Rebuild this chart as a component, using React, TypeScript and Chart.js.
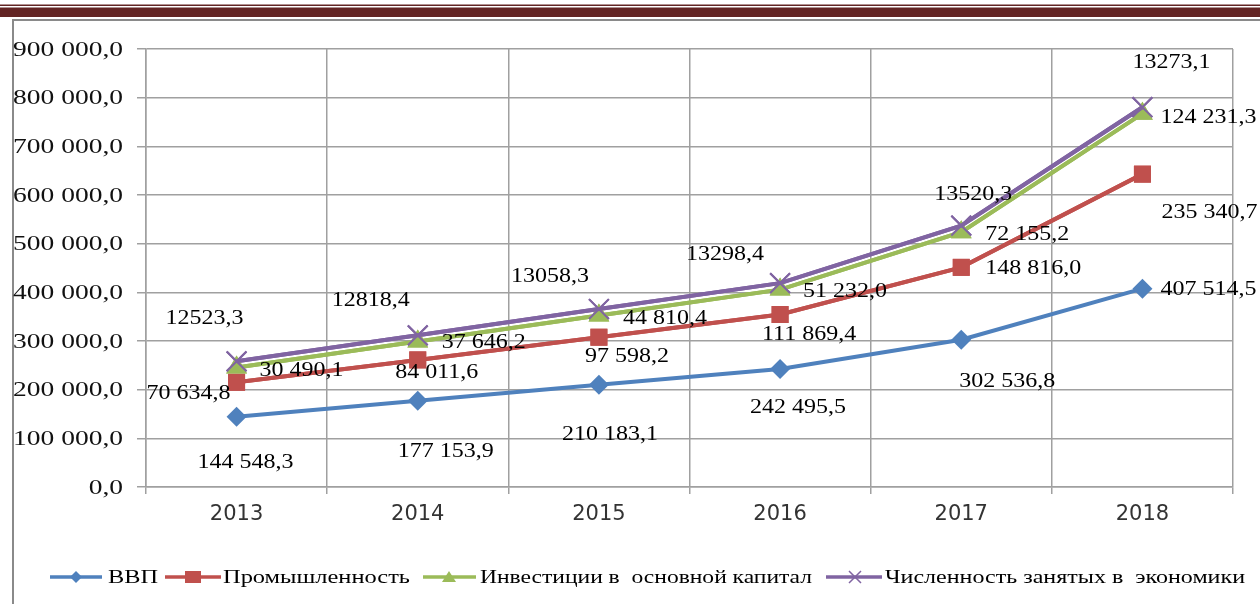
import React, { useEffect, useRef } from "react";
import { Chart, registerables } from "chart.js";

Chart.register(...registerables);

// ---- data ----
const years = ["2013", "2014", "2015", "2016", "2017", "2018"];
const seriesNames = [
  "ВВП",
  "Промышленность",
  "Инвестиции в  основной капитал",
  "Численность занятых в  экономики",
];
const vvp = [144548.3, 177153.9, 210183.1, 242495.5, 302536.8, 407514.5];
const industry = [70634.8, 84011.6, 97598.2, 111869.4, 148816.0, 235340.7];
const investment = [30490.1, 37646.2, 44810.4, 51232.0, 72155.2, 124231.3];
const employed = [12523.3, 12818.4, 13058.3, 13298.4, 13520.3, 13273.1];
const yMin = 0;
const yMax = 900000;
const yStep = 100000;

// label offsets (px, relative to each point), styling only
const labelOffsets = [
  [[9, 46], [28, 51], [11, 50], [18, 39], [46, 42], [66, 1]],
  [[-48, 11], [19, 13], [28, 20], [29, 20], [72, 1], [67, 39]],
  [[65, 3], [66, 1], [66, 3], [65, 2], [66, 3], [66, 4]],
  [[-32, -43], [-47, -35], [-49, -32], [-55, -28], [12, -31], [29, -44]],
];
const groupDigits = [true, true, true, false];

const colors = ["#4F81BD", "#C0504D", "#9BBB59", "#8064A2"];

function fmt(v: number, group: boolean) {
  const parts = v.toFixed(1).split(".");
  let i = parts[0];
  if (group) i = i.replace(/\B(?=(\d{3})+(?!\d))/g, " ");
  return i + "," + parts[1];
}

function stretchText(
  ctx: CanvasRenderingContext2D,
  text: string,
  x: number,
  y: number,
  font: string,
  sx: number,
  align: CanvasTextAlign,
  color: string
) {
  ctx.save();
  ctx.font = font;
  ctx.fillStyle = color;
  ctx.textAlign = align;
  ctx.textBaseline = "middle";
  ctx.translate(x, y);
  ctx.scale(sx, 1);
  ctx.fillText(text, 0, 0);
  ctx.restore();
}

function fitText(
  ctx: CanvasRenderingContext2D,
  text: string,
  x: number,
  y: number,
  width: number,
  font: string,
  color: string
) {
  ctx.save();
  ctx.font = font;
  const w = ctx.measureText(text).width;
  ctx.fillStyle = color;
  ctx.textAlign = "left";
  ctx.textBaseline = "middle";
  ctx.translate(x, y);
  ctx.scale(width / w, 1);
  ctx.fillText(text, 0, 0);
  ctx.restore();
}

function drawMarker(ctx: CanvasRenderingContext2D, kind: number, x: number, y: number, color: string) {
  ctx.save();
  ctx.fillStyle = color;
  ctx.strokeStyle = color;
  ctx.beginPath();
  if (kind === 0) {
    ctx.moveTo(x - 6, y);
    ctx.lineTo(x, y - 6);
    ctx.lineTo(x + 6, y);
    ctx.lineTo(x, y + 6);
    ctx.closePath();
    ctx.fill();
  } else if (kind === 1) {
    ctx.rect(x - 8, y - 6, 16, 12);
    ctx.fill();
  } else if (kind === 2) {
    ctx.moveTo(x, y - 6);
    ctx.lineTo(x + 7, y + 5);
    ctx.lineTo(x - 7, y + 5);
    ctx.closePath();
    ctx.fill();
  } else {
    ctx.lineWidth = 1.5;
    ctx.moveTo(x - 6, y - 6);
    ctx.lineTo(x + 6, y + 6);
    ctx.moveTo(x + 6, y - 6);
    ctx.lineTo(x - 6, y + 6);
    ctx.stroke();
  }
  ctx.restore();
}

const decorPlugin = {
  id: "decor",
  beforeDraw(chart: any) {
    const ctx = chart.ctx as CanvasRenderingContext2D;
    ctx.save();
    ctx.fillStyle = "#fff";
    ctx.fillRect(0, 0, chart.width, chart.height);
    ctx.fillStyle = "#622423";
    ctx.fillRect(0, 4.5, chart.width, 1.5);
    ctx.fillRect(0, 7.5, chart.width, 9.5);
    ctx.strokeStyle = "#8a8a8a";
    ctx.lineWidth = 2;
    ctx.beginPath();
    ctx.moveTo(12, 20);
    ctx.lineTo(chart.width, 20);
    ctx.moveTo(13, 20);
    ctx.lineTo(13, chart.height);
    ctx.stroke();
    ctx.restore();
  },
  afterDraw(chart: any) {
    const ctx = chart.ctx as CanvasRenderingContext2D;
    // y tick labels
    const ys = chart.scales.y;
    ys.ticks.forEach((t: any) => {
      const py = ys.getPixelForValue(t.value);
      stretchText(ctx, fmt(t.value, true), 123, py + 1, "22px 'Liberation Serif'", 1.25, "right", "#111");
    });
    // legend
    const items = [
      { l0: 50, l1: 102, m: 76, t0: 108, tw: 50 },
      { l0: 165, l1: 221, m: 193, t0: 223, tw: 187 },
      { l0: 423, l1: 476, m: 449, t0: 480, tw: 332 },
      { l0: 826, l1: 882, m: 855, t0: 885, tw: 360 },
    ];
    const ly = 577;
    items.forEach((it, i) => {
      ctx.save();
      ctx.strokeStyle = colors[i];
      ctx.lineWidth = 3.5;
      ctx.beginPath();
      ctx.moveTo(it.l0, ly);
      ctx.lineTo(it.l1, ly);
      ctx.stroke();
      ctx.restore();
      drawMarker(ctx, i, it.m, ly, colors[i]);
      fitText(ctx, seriesNames[i], it.t0, ly + 1, it.tw, "19px 'Liberation Serif'", "#000");
    });
  },
  afterDatasetsDraw(chart: any) {
    const ctx = chart.ctx as CanvasRenderingContext2D;
    // redraw later series on top (spreadsheet drawing order)
    for (let i = 1; i < chart.data.datasets.length; i++) {
      const meta = chart.getDatasetMeta(i);
      meta.controller.draw();
    }
    chart.data.datasets.forEach((ds: any, i: number) => {
      const meta = chart.getDatasetMeta(i);
      meta.data.forEach((el: any, j: number) => {
        const off = labelOffsets[i][j];
        stretchText(
          ctx,
          fmt(ds.data[j], groupDigits[i]),
          el.x + off[0],
          el.y + off[1],
          "20px 'Liberation Serif'",
          1.2,
          "center",
          "#000"
        );
      });
    });
  },
};

export default function App() {
  const ref = useRef<HTMLCanvasElement | null>(null);
  useEffect(() => {
    if (!ref.current) return;
    const series = [vvp, industry, investment, employed];
    const styles = ["rectRot", "rect", "triangle", "crossRot"];
    const radii = [10, 12, 12, 14];
    const chart = new Chart(ref.current, {
      type: "line",
      data: {
        labels: years,
        datasets: series.map((d, i) => ({
          label: seriesNames[i],
          data: d,
          borderColor: colors[i],
          backgroundColor: colors[i],
          borderWidth: 4,
          tension: 0,
          fill: false,
          pointStyle: styles[i] as any,
          pointRadius: radii[i],
          pointBackgroundColor: colors[i],
          pointBorderColor: colors[i],
          pointBorderWidth: i === 3 ? 2 : 0,
        })),
      },
      options: {
        responsive: false,
        animation: false,
        events: [],
        layout: { padding: { left: 0, top: 49, right: 27, bottom: 0 } },
        plugins: { legend: { display: false }, tooltip: { enabled: false } },
        scales: {
          x: {
            offset: true,
            grid: { offset: true, color: "#a0a0a0", lineWidth: 1.5, tickLength: 7 },
            border: { color: "#a0a0a0", width: 1.5 },
            ticks: {
              color: "#333333",
              font: { family: "'DejaVu Sans'", size: 21 },
              padding: 8,
            },
            afterFit: (s: any) => {
              s.height = 117;
            },
          },
          y: {
            stacked: true,
            min: yMin,
            max: yMax,
            grid: { color: "#a0a0a0", lineWidth: 1.5, tickLength: 9 },
            border: { color: "#a0a0a0", width: 1.5 },
            ticks: { stepSize: yStep, color: "rgba(0,0,0,0)", font: { size: 12 } },
            afterFit: (s: any) => {
              s.width = 146;
            },
          },
        },
      },
      plugins: [decorPlugin],
    });
    return () => chart.destroy();
  }, []);
  return (
    <div style={{ position: "fixed", left: 0, top: 0, width: 1260, height: 604, background: "#fff" }}>
      <canvas ref={ref} width={1260} height={604} style={{ display: "block", width: 1260, height: 604 }} />
    </div>
  );
}
